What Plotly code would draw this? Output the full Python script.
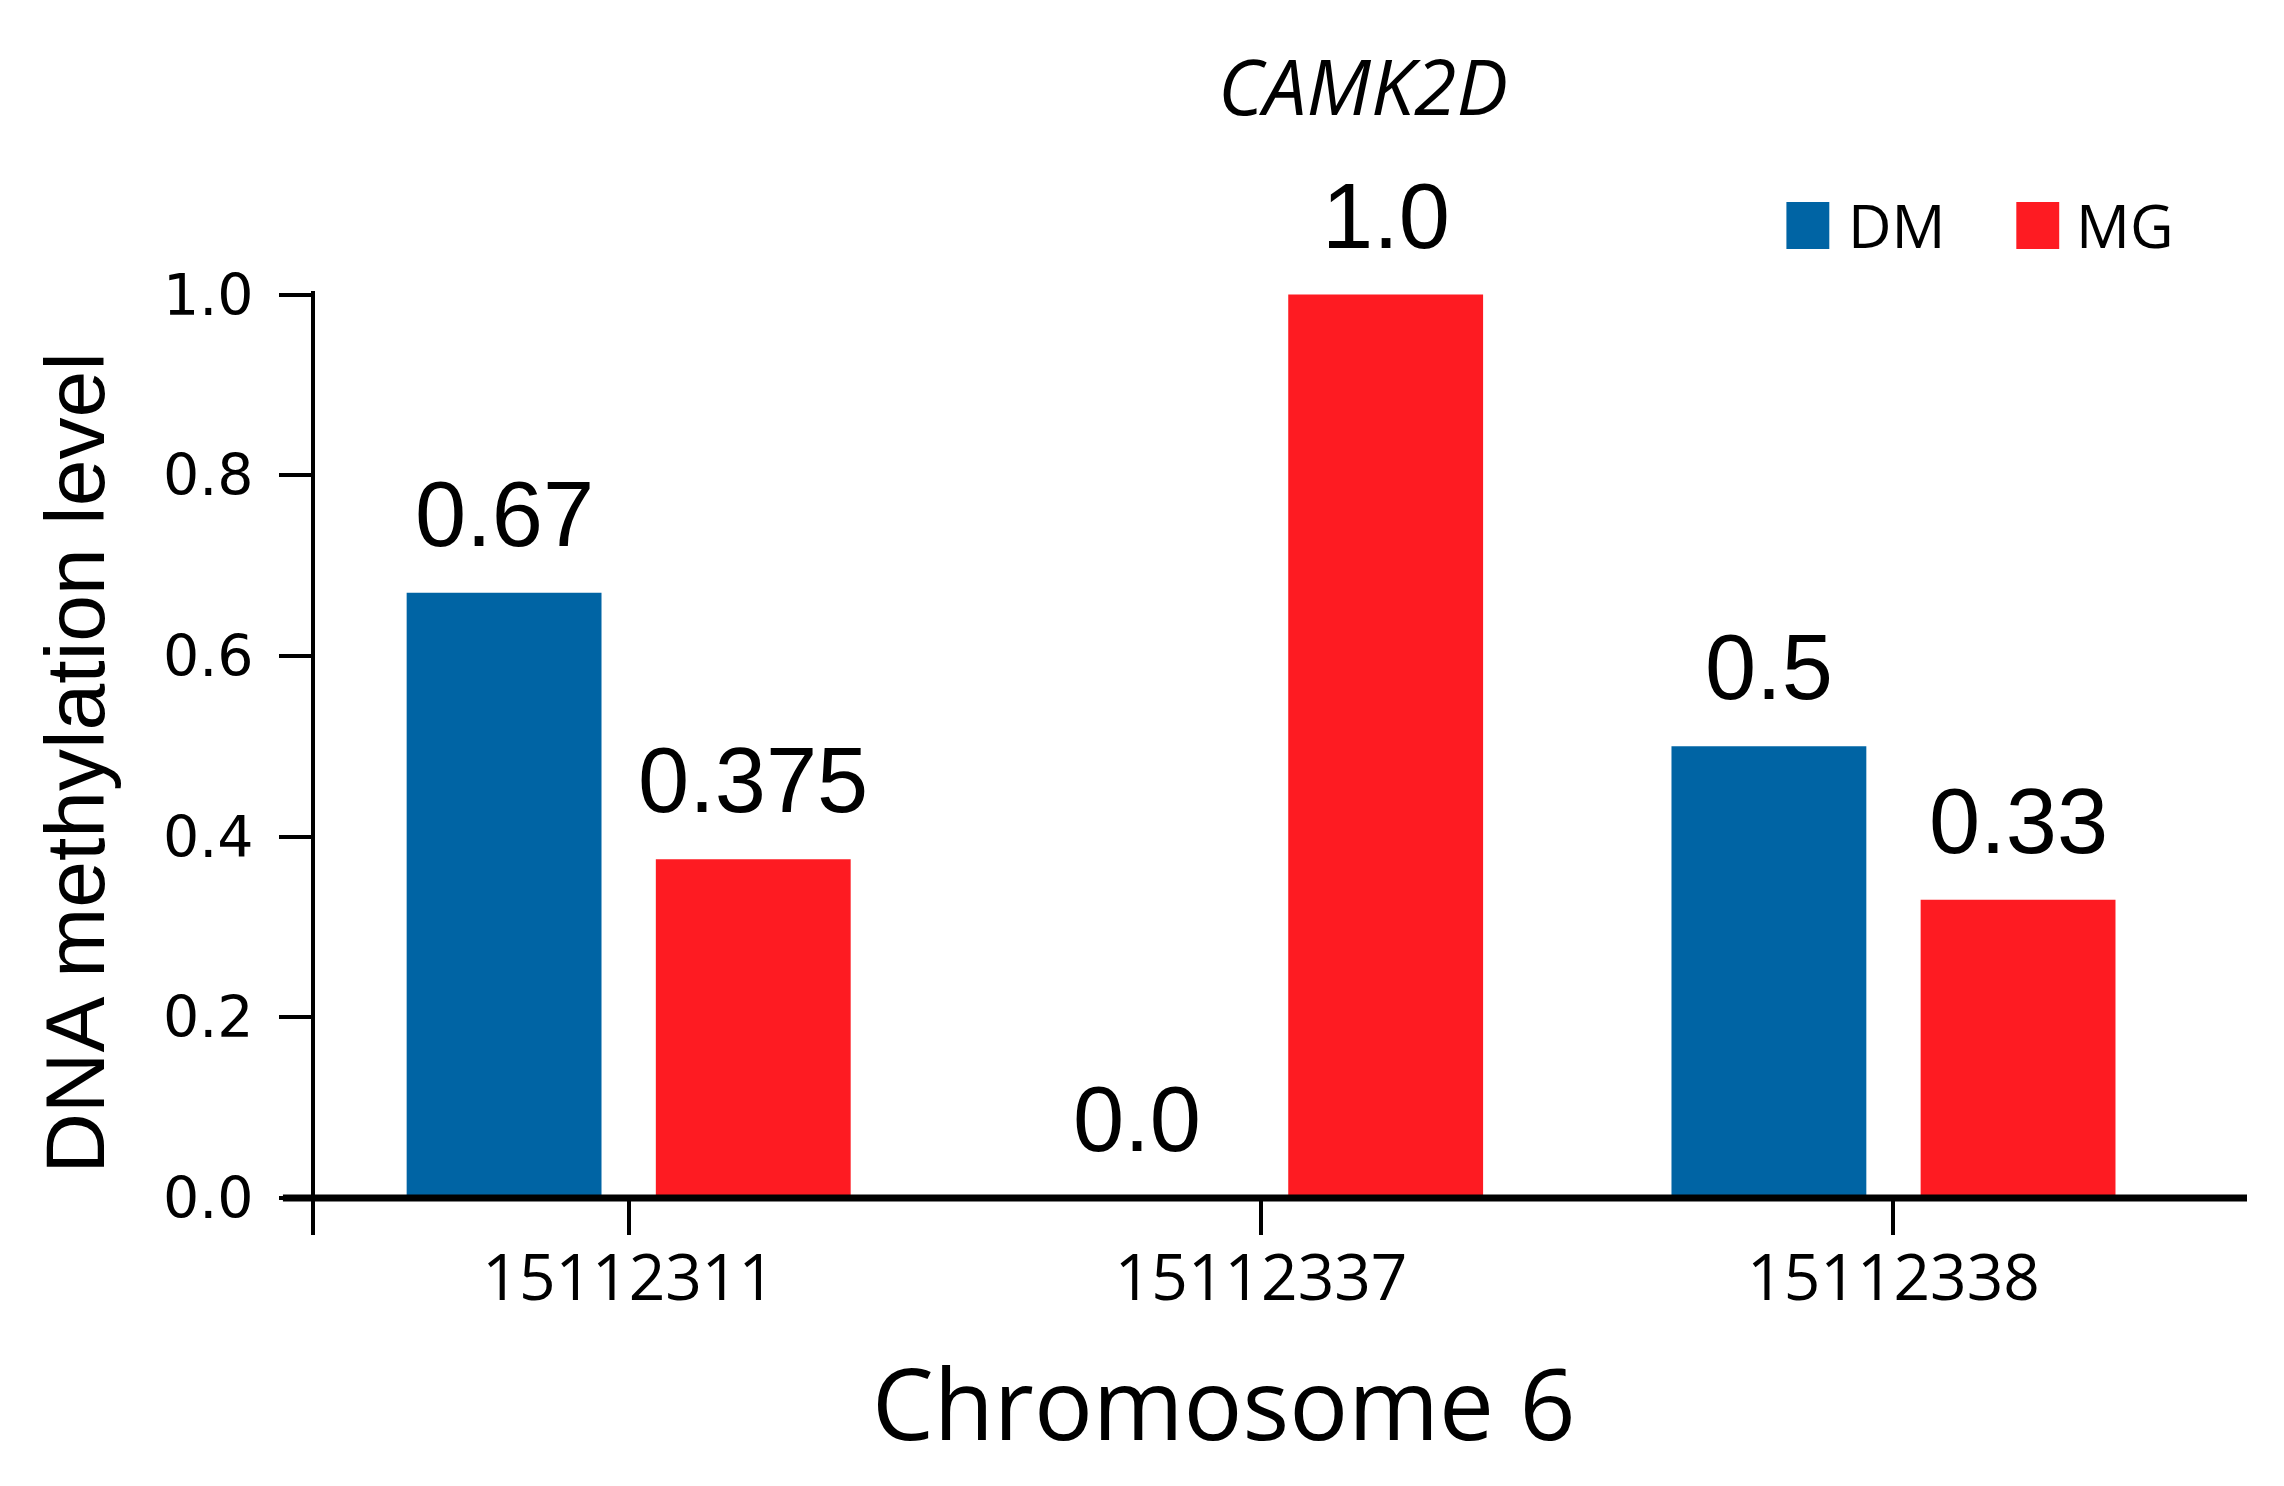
import plotly.graph_objects as go

positions = ["15112311", "15112337", "15112338"]
series_names = ["DM", "MG"]
dm_values = [0.67, 0.0, 0.5]
mg_values = [0.375, 1.0, 0.33]
y_tick_values = [0.0, 0.2, 0.4, 0.6, 0.8, 1.0]

colors = {"DM": "#0064A4", "MG": "#FE1B22"}
series_values = {"DM": dm_values, "MG": mg_values}

W, H = 2268, 1470
L, T, PW, PH = 307, 283, 1932, 944
R, B = W - L - PW, H - T - PH

BARGAP = 0.212
BARGROUPGAP = 0.218
slot = (1 - BARGAP) / 2
offsets = {"DM": -slot / 2, "MG": slot / 2}

fig = go.Figure()
for name in series_names:
    fig.add_trace(go.Bar(
        x=positions, y=series_values[name], name=name,
        marker=dict(color=colors[name], line=dict(width=0)),
        showlegend=False,
    ))

annotations = []
for name in series_names:
    for i, v in enumerate(series_values[name]):
        annotations.append(dict(
            x=i + offsets[name], y=v, xref="x", yref="y",
            text=str(v), showarrow=False, yanchor="bottom", xanchor="center",
            yshift=26, font=dict(family="Liberation Sans, Arial", size=92, color="black"),
        ))

# x-axis title (placed like the original, slightly left of centre)
annotations.append(dict(
    x=0.470, y=-0.177, xref="paper", yref="paper", text="Chromosome 6",
    showarrow=False, xanchor="center", yanchor="middle",
    font=dict(family="Open Sans", size=98, color="black"),
))

# Custom legend (large square swatches)
legend_items = [("DM", 0.7616, 0.7838, 0.7926), ("MG", 0.8806, 0.9028, 0.9107)]
shapes = []
for name, sx0, sx1, tx in legend_items:
    shapes.append(dict(type="rect", xref="paper", yref="paper", x0=sx0, x1=sx1,
                       y0=1.0446, y1=1.0942, fillcolor=colors[name], line=dict(width=0)))
    annotations.append(dict(x=tx, y=1.0699, xref="paper", yref="paper", text=name,
                            showarrow=False, xanchor="left", yanchor="middle",
                            font=dict(family="Open Sans", size=60, color="black")))

# x-axis baseline at y = 0
shapes.append(dict(type="line", xref="paper", yref="y", x0=-0.0166, x1=1, y0=0, y1=0,
                   line=dict(color="black", width=7), layer="above"))

fig.update_layout(
    width=W, height=H,
    margin=dict(l=L, r=R, t=T, b=B, autoexpand=False),
    paper_bgcolor="white", plot_bgcolor="white",
    barmode="group", bargap=BARGAP, bargroupgap=BARGROUPGAP,
    title=dict(text="<i>CAMK2D</i>", x=(1364 - 9) / W, xanchor="center", y=1 - 80 / H,
               yanchor="middle", font=dict(family="Open Sans", size=77, color="black")),
    shapes=shapes, annotations=annotations,
    xaxis=dict(
        range=[-0.496, 2.559], showline=False, showgrid=False, zeroline=False,
        ticks="inside", ticklen=37, tickwidth=4, tickcolor="black",
        tickfont=dict(family="Open Sans", size=64, color="black"),
    ),
    yaxis=dict(
        range=[-0.041, 1.004], tickvals=y_tick_values, tickformat=".1f",
        showline=True, linecolor="black", linewidth=4,
        ticks="outside", ticklen=32, tickwidth=4, tickcolor="black",
        showgrid=False, zeroline=False,
        tickfont=dict(family="DejaVu Sans", size=57, color="black"),
        ticklabelstandoff=14,
        title=dict(text="DNA methylation level",
                   font=dict(family="Liberation Sans, Arial", size=84, color="black"),
                   standoff=32),
    ),
    font=dict(family="Open Sans", color="black"),
)

fig.write_html("out.html")
